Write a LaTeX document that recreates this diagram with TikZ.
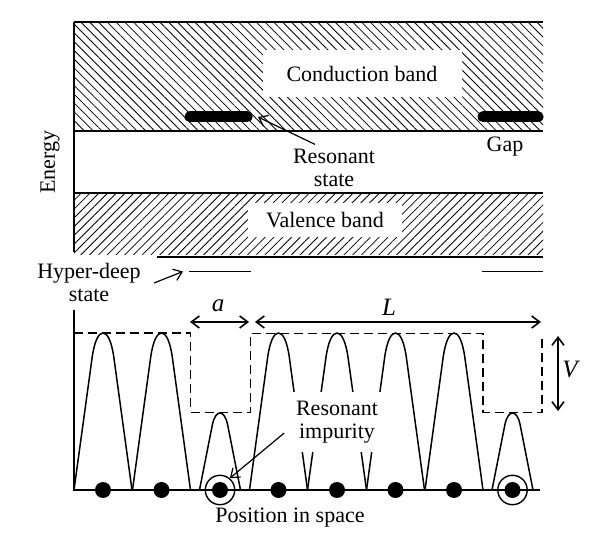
\documentclass[tikz,border=0pt]{standalone}
\usepackage{fontspec}
\setmainfont{Liberation Serif}
\usetikzlibrary{arrows.meta,patterns.meta}

\begin{document}
\begin{tikzpicture}[x=0.5pt,y=-0.5pt,line width=0.8pt,
   >={Straight Barb[length=4pt,width=6pt]},
   txt/.style={font=\fontsize{11}{11.5}\selectfont,align=center,inner sep=1pt},
   sym/.style={font=\fontsize{12.5}{13}\selectfont\itshape,inner sep=1pt},
   clear/.style={txt,fill=white,inner sep=0pt},
   cband/.style={pattern={Lines[angle=-45,distance=3.1pt,line width=0.4pt]}},
   vband/.style={pattern={Lines[angle=45,distance=3.1pt,line width=0.4pt]}},
   level/.style={line width=5.5pt,line cap=round},
   arch/.style={line width=0.75pt},
   pot/.style={dash pattern=on 4.5pt off 2.5pt,line width=0.8pt},
   dot/.style={circle,fill,inner sep=0pt,minimum size=8pt},
   ring/.style={circle,draw,inner sep=0pt,minimum size=14.7pt,line width=0.7pt}]
   \useasboundingbox (0,0) rectangle (600,555);
   % bands
   \path[cband] (74,22) rectangle (543,131);
   \path[vband] (74,193) rectangle (543,255);
   \draw (74,22) -- (543,22) (74,131) -- (543,131) (74,193) -- (543,193) (157,257) -- (543,257);
   \draw (74,22) -- (74,252);
   \node[clear,minimum width=99.5pt,minimum height=23.5pt] (cb) at (362,74) {Conduction band};
   \node[clear,minimum width=77pt,minimum height=17pt] (vb) at (325,220) {Valence band};
   \node[txt,rotate=90] (energy) at (50,162) {Energy};
   % resonant levels
   \coordinate (r1a) at (190,117); \coordinate (r1b) at (247,117);
   \coordinate (r2a) at (483,117); \coordinate (r2b) at (538,117);
   \draw[level] (r1a) -- (r1b);
   \draw[level] (r2a) -- (r2b);
   \node[txt] (resstate) at (334,168) {Resonant\\state};
   \draw[->,line width=0.6pt] ([xshift=-9.5pt,yshift=1pt]resstate.north) -- ([xshift=5.5pt]r1b);
   \node[txt] (gap) at (505,147) {Gap};
   % hyper-deep levels
   \coordinate (h1a) at (189,271.5); \coordinate (h1b) at (251,271.5);
   \coordinate (h2a) at (482,271.5); \coordinate (h2b) at (543,271.5);
   \draw (h1a) -- (h1b) (h2a) -- (h2b);
   \node[txt] (hyper) at (89,282) {Hyper-deep\\state};
   \coordinate (htail) at (154,283);
   \draw[->,line width=0.6pt] (htail) -- ([xshift=-3pt]h1a);
   % space axis
   \draw (74,310) -- (74,490) -- (540,490);
   \foreach \xc/\d/\h in {103/29/157,161.5/29/157,220/20.5/77,278.5/29/157,
                          337/29.5/157,395.5/29/157,454/29/157,512.5/20.5/77}
     \draw[arch] (\xc-\d,490) -- ({\xc-0.37*\d},{490-0.85*\h})
        .. controls ({\xc-0.29*\d},{490-0.95*\h}) and ({\xc-0.15*\d},{490-\h}) .. (\xc,490-\h)
        .. controls ({\xc+0.15*\d},{490-\h}) and ({\xc+0.29*\d},{490-0.95*\h}) .. ({\xc+0.37*\d},{490-0.85*\h})
        -- (\xc+\d,490);
   \draw[pot] (74,333) -- (190.5,333) -- (190.5,412.5) -- (250.5,412.5) -- (250.5,333.5)
      -- (483,333.5) -- (483,412.5) -- (542,412.5) -- (542,338);
   \foreach \i in {0,...,7}
     \node[dot] (d\i) at (103+58.5*\i,490) {};
   \node[ring] (imp1) at (d2) {};
   \node[ring] (imp2) at (d7) {};
   \node[clear,minimum width=44pt,minimum height=30pt] (resimp) at (337,422) {Resonant\\impurity};
   \draw[->,line width=0.6pt] ([xshift=-4pt,yshift=-5.5pt]resimp.west) -- (imp1.50);
   % period and barrier
   \coordinate (a1) at (190,322); \coordinate (a2) at (249,322);
   \coordinate (L1) at (255,322); \coordinate (L2) at (541,322);
   \coordinate (V1) at (558,336); \coordinate (V2) at (558,411);
   \draw[<->] (a1) -- (a2);
   \draw[<->] (L1) -- (L2);
   \draw[<->] (V1) -- (V2);
   \node[sym] (alab) at (218,306) {a};
   \node[sym] (Llab) at (389,307) {L};
   \node[sym] (Vlab) at (570,370) {V};
   \node[txt] (pos) at (290,518) {Position in space};
\end{tikzpicture}
\end{document}
